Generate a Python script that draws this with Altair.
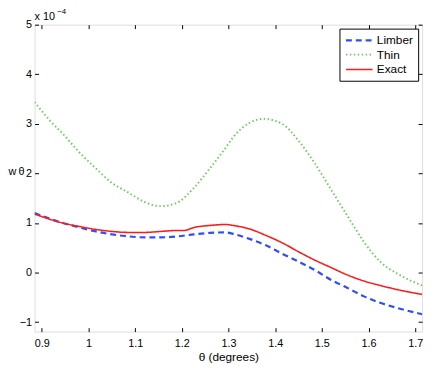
import altair as alt
import pandas as pd

series_names = ["Limber", "Thin", "Exact"]
series_colors = ["#2f4dff", "#66cc55", "#ff1a1a"]

thin_x = [0.8845, 0.917, 0.945, 0.980, 1.016, 1.050, 1.086, 1.121, 1.155, 1.190, 1.226,
          1.260, 1.275, 1.294, 1.310, 1.345, 1.376, 1.415, 1.450, 1.485, 1.520, 1.555,
          1.590, 1.625, 1.667, 1.7147]
thin_y = [3.44, 3.07, 2.80, 2.43, 2.10, 1.81, 1.61, 1.42, 1.34, 1.41, 1.71,
          2.10, 2.28, 2.52, 2.73, 3.02, 3.10, 3.00, 2.66, 2.20, 1.67, 1.14,
          0.62, 0.22, -0.05, -0.26]

exact_x = [0.8845, 0.945, 0.980, 1.016, 1.050, 1.086, 1.121, 1.155, 1.190, 1.205, 1.226,
           1.260, 1.294, 1.310, 1.345, 1.380, 1.415, 1.450, 1.485, 1.520, 1.555, 1.590,
           1.625, 1.660, 1.7147]
exact_y = [1.18, 1.00, 0.93, 0.87, 0.83, 0.81, 0.81, 0.83, 0.85, 0.85, 0.91,
           0.95, 0.97, 0.95, 0.88, 0.75, 0.60, 0.42, 0.25, 0.10, -0.05, -0.17,
           -0.26, -0.34, -0.44]

limber_x = [0.8845, 0.945, 0.980, 1.016, 1.050, 1.086, 1.121, 1.155, 1.190, 1.226, 1.260,
            1.294, 1.310, 1.345, 1.380, 1.415, 1.450, 1.485, 1.520, 1.555, 1.590, 1.625,
            1.660, 1.7147]
limber_y = [1.20, 1.00, 0.91, 0.83, 0.77, 0.73, 0.71, 0.71, 0.73, 0.77, 0.80,
            0.81, 0.78, 0.68, 0.55, 0.38, 0.22, 0.05, -0.15, -0.31, -0.48, -0.61,
            -0.71, -0.84]

x_ticks = [0.9, 1.0, 1.1, 1.2, 1.3, 1.4, 1.5, 1.6, 1.7]
y_ticks = [-1, 0, 1, 2, 3, 4, 5]
x_domain = [0.8845, 1.7147]
y_domain = [-1.19, 5]

rows = []
for name, xs, ys in [("Limber", limber_x, limber_y), ("Thin", thin_x, thin_y), ("Exact", exact_x, exact_y)]:
    for i, (a, b) in enumerate(zip(xs, ys)):
        rows.append({"series": name, "theta": a, "w": b, "order": i})
df = pd.DataFrame(rows)

FONT = "Liberation Sans"

xscale = alt.Scale(domain=x_domain, nice=False, zero=False)
yscale = alt.Scale(domain=y_domain, nice=False, zero=False)

tick_style = dict(offset=-4, tickSize=4, domain=False, grid=False, tickColor="black",
                  tickWidth=1)

lines = alt.Chart(df).mark_line(clip=True, interpolate="monotone").encode(
    x=alt.X("theta:Q", scale=xscale,
            axis=alt.Axis(values=x_ticks, format=".1~f", title="θ (degrees)",
                          labelPadding=6, labelColor="black",
                          labelFontSize=11, titleFontSize=12, titleFont=FONT,
                          labelFont=FONT, titleFontWeight="normal", titlePadding=3,
                          **tick_style)),
    y=alt.Y("w:Q", scale=yscale,
            axis=alt.Axis(values=y_ticks, title="w\u2009θ", titleAngle=0, titleAlign="left",
                          titleBaseline="middle", titleX=-31, titleY=149,
                          labelPadding=3, labelColor="black",
                          labelFontSize=11, titleFontSize=11, titleFont=FONT,
                          labelFont=FONT, titleFontWeight="normal", **tick_style)),
    color=alt.Color("series:N", sort=series_names,
                    scale=alt.Scale(domain=series_names, range=series_colors),
                    legend=alt.Legend(title=None, orient="top-right", offset=4,
                                      symbolType="M-1,0L4,0", symbolSize=117,
                                      symbolStrokeWidth=2, labelFontSize=12, labelFont=FONT,
                                      strokeColor="black", fillColor="white",
                                      padding=5, rowPadding=2, labelOffset=19,
                                      labelColor="black")),
    strokeDash=alt.StrokeDash("series:N", sort=series_names,
                              scale=alt.Scale(domain=series_names,
                                              range=[[6, 4], [1.5, 2.5], [1, 0]]),
                              legend=None),
    strokeWidth=alt.StrokeWidth("series:N",
                                scale=alt.Scale(domain=series_names, range=[2.2, 1.6, 2.2]),
                                legend=None),
    order="order:Q",
)

mirror = alt.Chart(df).mark_point(opacity=0).encode(
    x=alt.X("theta:Q", scale=xscale,
            axis=alt.Axis(orient="top", values=x_ticks, labels=False, title=None, **tick_style)),
    y=alt.Y("w:Q", scale=yscale,
            axis=alt.Axis(orient="right", values=y_ticks, labels=False, title=None, **tick_style)),
)

label_df = pd.DataFrame({"t": ["x 10"], "s": ["−4"]})
exp_base = alt.Chart(label_df).mark_text(align="left", baseline="alphabetic", fontSize=11,
                                         font=FONT, color="black").encode(
    text="t:N", x=alt.value(0), y=alt.value(-5))
exp_sup = alt.Chart(label_df).mark_text(align="left", baseline="alphabetic", fontSize=8,
                                        font=FONT, color="black").encode(
    text="s:N", x=alt.value(23), y=alt.value(-11))

chart = alt.layer(lines, mirror, exp_base, exp_sup).resolve_axis(
    x="independent", y="independent"
).properties(
    width=394, height=312,
    autosize=alt.AutoSizeParams(type="none"),
    padding={"left": 27, "top": 14, "right": 6, "bottom": 30},
).configure_view(stroke="black", strokeWidth=1).configure(background="white")

chart.save("out.html", embed_options={"renderer": "svg", "actions": False})
